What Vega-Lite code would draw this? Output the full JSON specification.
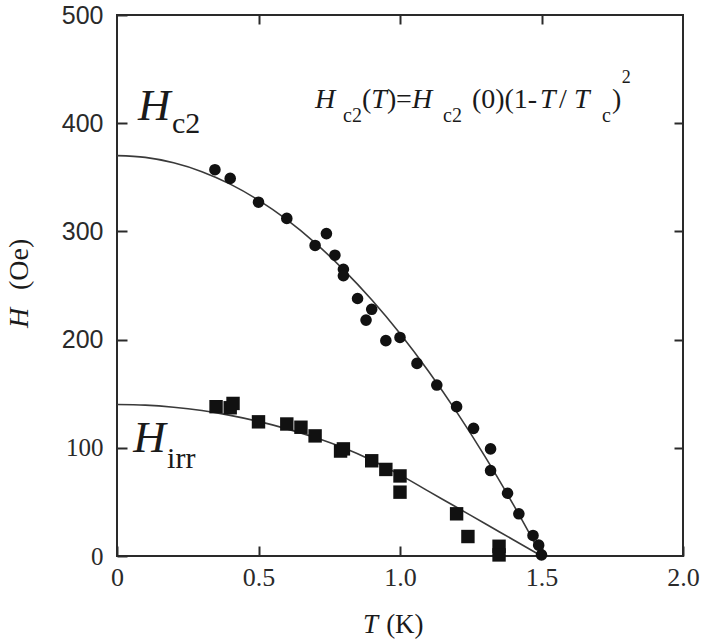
{
  "$schema": "https://vega.github.io/schema/vega-lite/v6.json",
  "width": 566,
  "height": 541,
  "autosize": {"type": "none"},
  "padding": {"left": 117, "top": 15, "right": 22, "bottom": 84},
  "background": "white",
  "config": {"view": {"stroke": "#2a2a2a", "strokeWidth": 2}},
  "datasets": {
    "hc2": [
      {"T": 0.346, "H": 357}, {"T": 0.40, "H": 349}, {"T": 0.50, "H": 327}, {"T": 0.60, "H": 312},
      {"T": 0.70, "H": 287}, {"T": 0.74, "H": 298}, {"T": 0.77, "H": 278}, {"T": 0.80, "H": 265},
      {"T": 0.80, "H": 259}, {"T": 0.85, "H": 238}, {"T": 0.88, "H": 218}, {"T": 0.90, "H": 228},
      {"T": 0.95, "H": 199}, {"T": 1.00, "H": 202}, {"T": 1.06, "H": 178}, {"T": 1.13, "H": 158},
      {"T": 1.20, "H": 138}, {"T": 1.26, "H": 118}, {"T": 1.32, "H": 99}, {"T": 1.32, "H": 79},
      {"T": 1.38, "H": 58}, {"T": 1.42, "H": 39}, {"T": 1.47, "H": 19}, {"T": 1.49, "H": 10},
      {"T": 1.50, "H": 1}
    ],
    "hirr": [
      {"T": 0.35, "H": 138}, {"T": 0.40, "H": 137}, {"T": 0.41, "H": 141}, {"T": 0.50, "H": 124},
      {"T": 0.60, "H": 122}, {"T": 0.65, "H": 119}, {"T": 0.70, "H": 111}, {"T": 0.79, "H": 97},
      {"T": 0.80, "H": 99}, {"T": 0.90, "H": 88}, {"T": 0.95, "H": 80}, {"T": 1.00, "H": 74},
      {"T": 1.00, "H": 59}, {"T": 1.20, "H": 39}, {"T": 1.24, "H": 18}, {"T": 1.35, "H": 9},
      {"T": 1.35, "H": 1}
    ],
    "hc2fit": [
      {"T": 0.0, "H": 370}, {"T": 0.1, "H": 368.4}, {"T": 0.2, "H": 363.4}, {"T": 0.3, "H": 355.2},
      {"T": 0.4, "H": 343.7}, {"T": 0.5, "H": 328.9}, {"T": 0.6, "H": 310.8}, {"T": 0.7, "H": 289.4},
      {"T": 0.8, "H": 264.7}, {"T": 0.9, "H": 236.8}, {"T": 1.0, "H": 205.6}, {"T": 1.1, "H": 171.0},
      {"T": 1.2, "H": 133.2}, {"T": 1.3, "H": 92.1}, {"T": 1.4, "H": 47.7}, {"T": 1.45, "H": 24.4},
      {"T": 1.5, "H": 0}
    ],
    "hirrfit": [
      {"T": 0.0, "H": 140}, {"T": 0.1, "H": 139.4}, {"T": 0.2, "H": 137.5}, {"T": 0.3, "H": 134.4},
      {"T": 0.4, "H": 130}, {"T": 0.5, "H": 124.4}, {"T": 0.6, "H": 117.5}, {"T": 0.7, "H": 109.5},
      {"T": 0.8, "H": 100}, {"T": 0.9, "H": 88.5}, {"T": 1.0, "H": 75}, {"T": 1.1, "H": 60},
      {"T": 1.2, "H": 45}, {"T": 1.3, "H": 30}, {"T": 1.4, "H": 15}, {"T": 1.5, "H": 0}
    ],
    "bigH": [{"T": 0.074, "H": 403, "s": "H"}, {"T": 0.057, "H": 96, "s": "H"}],
    "bigSub": [{"T": 0.194, "H": 391, "s": "c2"}, {"T": 0.177, "H": 81, "s": "irr"}],
    "fItal": [
      {"T": 0.700, "H": 414, "s": "H"}, {"T": 0.898, "H": 414, "s": "T"}, {"T": 1.042, "H": 414, "s": "H"},
      {"T": 1.495, "H": 414, "s": "T"}, {"T": 1.615, "H": 414, "s": "T"}
    ],
    "fNorm": [
      {"T": 0.866, "H": 414, "s": "("}, {"T": 0.954, "H": 414, "s": ")"}, {"T": 0.986, "H": 414, "s": "="},
      {"T": 1.254, "H": 414, "s": "(0)(1-"}, {"T": 1.562, "H": 414, "s": "/"}, {"T": 1.749, "H": 414, "s": ")"}
    ],
    "fSub": [
      {"T": 0.799, "H": 401, "s": "c2"}, {"T": 1.152, "H": 401, "s": "c2"}, {"T": 1.714, "H": 401, "s": "c"}
    ],
    "fSup": [{"T": 1.784, "H": 437, "s": "2"}],
    "xtItal": [{"T": 0.869, "H": -71, "s": "T"}],
    "xtNorm": [{"T": 0.951, "H": -71, "s": "(K)"}],
    "ytItal": [{"T": -0.314, "H": 210.7, "s": "H"}],
    "ytNorm": [{"T": -0.314, "H": 245.8, "s": "(Oe)"}]
  },
  "encoding": {
    "x": {"field": "T", "type": "quantitative", "scale": {"domain": [0, 2], "nice": false, "zero": false}},
    "y": {"field": "H", "type": "quantitative", "scale": {"domain": [0, 500], "nice": false}}
  },
  "layer": [
    {
      "encoding": {
        "x": {
          "field": "T", "type": "quantitative",
          "axis": {
            "orient": "bottom", "title": null, "domain": false, "grid": false,
            "values": [0, 0.5, 1, 1.5, 2],
            "labelExpr": "datum.value == 0 ? '0' : format(datum.value, '.1f')",
            "tickSize": -10, "tickWidth": 2, "tickColor": "#2a2a2a",
            "labelPadding": 18, "labelFont": "Liberation Serif, Times New Roman, Times, serif", "labelFontSize": 26,
            "labelColor": "#2a2a2a", "labelFlush": false
          }
        },
        "y": {
          "field": "H", "type": "quantitative",
          "axis": {
            "orient": "left", "title": null, "domain": false, "grid": false,
            "values": [0, 100, 200, 300, 400, 500],
            "tickSize": -10, "tickWidth": 2, "tickColor": "#2a2a2a",
            "labelPadding": 24, "labelFontSize": 25, "labelColor": "#2a2a2a", "labelFlush": false,
            "labelFont": {"condition": {"test": "datum.value >= 200", "value": "Liberation Sans, Arial, Helvetica, sans-serif"}, "value": "Liberation Serif, Times New Roman, Times, serif"}
          }
        }
      },
      "layer": [
        {"data": {"name": "hc2fit"}, "mark": {"type": "line", "color": "#3a3a3a", "strokeWidth": 1.6, "interpolate": "monotone"}},
        {"data": {"name": "hirrfit"}, "mark": {"type": "line", "color": "#3a3a3a", "strokeWidth": 1.6, "interpolate": "monotone"}},
        {"data": {"name": "hc2"}, "mark": {"type": "point", "shape": "circle", "filled": true, "color": "#111111", "opacity": 1, "size": 135}},
        {"data": {"name": "hirr"}, "mark": {"type": "point", "shape": "square", "filled": true, "color": "#111111", "opacity": 1, "size": 180}},
        {"data": {"name": "bigH"}, "mark": {"type": "text", "font": "Liberation Serif, Times New Roman, Times, serif", "fontStyle": "italic", "fontSize": 45, "align": "left", "baseline": "alphabetic", "color": "#1a1a1a"}, "encoding": {"text": {"field": "s"}}},
        {"data": {"name": "bigSub"}, "mark": {"type": "text", "font": "Liberation Serif, Times New Roman, Times, serif", "fontSize": 30, "align": "left", "baseline": "alphabetic", "color": "#1a1a1a"}, "encoding": {"text": {"field": "s"}}},
        {"data": {"name": "fItal"}, "mark": {"type": "text", "font": "Liberation Serif, Times New Roman, Times, serif", "fontStyle": "italic", "fontSize": 28, "align": "left", "baseline": "alphabetic", "color": "#1a1a1a"}, "encoding": {"text": {"field": "s"}}},
        {"data": {"name": "fNorm"}, "mark": {"type": "text", "font": "Liberation Serif, Times New Roman, Times, serif", "fontSize": 28, "align": "left", "baseline": "alphabetic", "color": "#1a1a1a"}, "encoding": {"text": {"field": "s"}}},
        {"data": {"name": "fSub"}, "mark": {"type": "text", "font": "Liberation Serif, Times New Roman, Times, serif", "fontSize": 20, "align": "left", "baseline": "alphabetic", "color": "#1a1a1a"}, "encoding": {"text": {"field": "s"}}},
        {"data": {"name": "fSup"}, "mark": {"type": "text", "font": "Liberation Serif, Times New Roman, Times, serif", "fontSize": 18, "align": "left", "baseline": "alphabetic", "color": "#1a1a1a"}, "encoding": {"text": {"field": "s"}}},
        {"data": {"name": "xtItal"}, "mark": {"type": "text", "font": "Liberation Serif, Times New Roman, Times, serif", "fontStyle": "italic", "fontSize": 27, "align": "left", "baseline": "alphabetic", "color": "#1a1a1a"}, "encoding": {"text": {"field": "s"}}},
        {"data": {"name": "xtNorm"}, "mark": {"type": "text", "font": "Liberation Serif, Times New Roman, Times, serif", "fontSize": 27, "align": "left", "baseline": "alphabetic", "color": "#1a1a1a"}, "encoding": {"text": {"field": "s"}}},
        {"data": {"name": "ytItal"}, "mark": {"type": "text", "font": "Liberation Serif, Times New Roman, Times, serif", "fontStyle": "italic", "fontSize": 28, "align": "left", "baseline": "alphabetic", "angle": 270, "color": "#1a1a1a"}, "encoding": {"text": {"field": "s"}}},
        {"data": {"name": "ytNorm"}, "mark": {"type": "text", "font": "Liberation Serif, Times New Roman, Times, serif", "fontSize": 28, "align": "left", "baseline": "alphabetic", "angle": 270, "color": "#1a1a1a"}, "encoding": {"text": {"field": "s"}}}
      ]
    },
    {
      "data": {"name": "hc2fit"},
      "mark": {"type": "point", "opacity": 0},
      "encoding": {
        "x": {
          "field": "T", "type": "quantitative",
          "axis": {"orient": "top", "title": null, "domain": false, "grid": false, "labels": false,
                   "values": [0.5, 1, 1.5], "tickSize": -9, "tickWidth": 2, "tickColor": "#2a2a2a"}
        },
        "y": {
          "field": "H", "type": "quantitative",
          "axis": {"orient": "right", "title": null, "domain": false, "grid": false, "labels": false,
                   "values": [100, 200, 300, 400], "tickSize": -9, "tickWidth": 2, "tickColor": "#2a2a2a"}
        }
      }
    }
  ],
  "resolve": {"axis": {"x": "independent", "y": "independent"}}
}
